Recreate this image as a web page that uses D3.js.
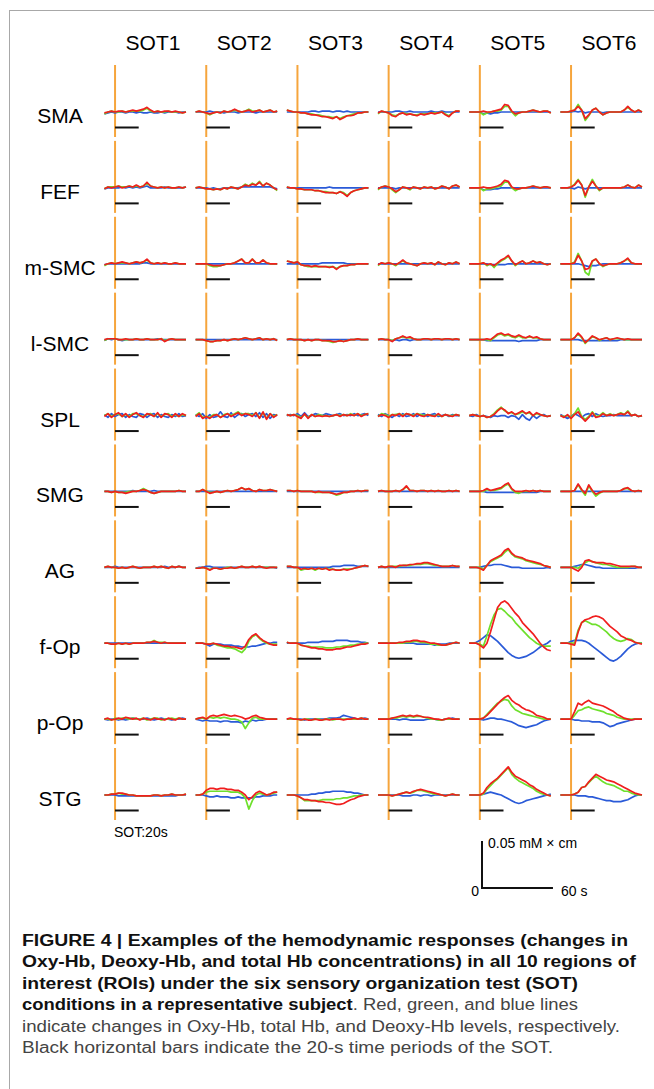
<!DOCTYPE html>
<html>
<head>
<meta charset="utf-8">
<script src="https://cdn.jsdelivr.net/npm/d3@7"></script>
<style>
  body { margin: 0; background: #fff; }
  text { font-family: "Liberation Sans", Arial, sans-serif; }
</style>
</head>
<body>
<script>
// regions of interest (rows) and SOT conditions (columns)
const rois = ["SMA", "FEF", "m-SMC", "l-SMC", "SPL", "SMG", "AG", "f-Op", "p-Op", "STG"];
const conditions = ["SOT1", "SOT2", "SOT3", "SOT4", "SOT5", "SOT6"];

// sample times in s (0 = SOT onset)
const times = [-9, -6, -3, 0, 3, 6, 9, 12, 15, 18, 21, 24, 27, 30, 33, 36, 39, 42, 45, 48, 51, 54, 57, 60];

// changes in uM x cm, [roi][condition][time]
const oxyHb = [
  [ // SMA
    [-1,0,1,0,1,1,0,1,2,1,2,3,5,2,0,1,0,1,1,0,1,0,-1,0],
    [0,1,0,-1,-2,-1,0,-1,1,0,1,3,1,0,1,2,0,1,2,0,1,2,0,1],
    [2,1,0,0,-1,-1,-2,-3,-3,-4,-5,-5,-6,-7,-5,-8,-6,-4,-4,-3,-1,-1,0,0],
    [-1,1,0,-1,-4,-5,-2,-1,-3,-2,-3,-4,-2,-3,-2,-1,-2,-1,0,-3,-5,-1,1,1],
    [0,0,0,0,1,0,0,1,2,3,8,7,1,-2,-1,0,0,1,2,1,0,1,1,-1],
    [0,0,0,1,2,6,2,-7,-3,2,4,0,-3,-1,0,0,0,0,2,6,2,0,2,0]
  ],
  [ // FEF
    [-1,1,0,1,2,0,1,2,1,3,1,2,6,2,1,0,1,0,1,0,0,1,0,1],
    [0,1,0,-1,-1,-2,-1,-2,0,-1,1,0,-1,1,3,2,4,3,6,2,5,3,0,-2],
    [1,0,0,-1,-1,-2,-2,-2,-3,-3,-4,-5,-5,-5,-6,-4,-6,-9,-5,-3,-2,-1,0,0],
    [-1,1,2,1,-1,-4,-2,1,0,-1,1,0,-1,1,0,1,-1,0,2,1,-1,2,3,1],
    [0,0,0,0,1,0,0,1,2,4,8,7,1,-1,-1,0,0,1,2,1,0,1,1,0],
    [0,0,0,1,3,8,3,-8,1,7,2,-2,0,0,0,0,0,0,1,3,1,0,3,1]
  ],
  [ // m-SMC
    [-1,0,1,0,1,2,1,0,1,2,1,2,5,1,0,1,0,1,0,0,1,0,0,0],
    [0,0,0,0,-1,-2,-2,-2,-1,0,0,1,3,5,1,1,5,1,1,4,1,0,0,0],
    [3,2,1,2,-1,-2,-2,-3,-2,-3,-3,-3,-4,-3,-6,-3,-2,-2,-1,-1,0,0,0,0],
    [-1,1,0,1,0,-1,1,4,1,0,-1,-2,0,1,0,1,-1,2,0,-1,1,0,2,0],
    [0,0,0,0,1,-1,0,-2,1,4,6,9,3,-1,1,3,0,1,3,1,2,0,-1,0],
    [0,0,0,0,1,9,3,-6,-5,3,5,0,-2,-1,0,0,0,1,3,6,1,0,0,0]
  ],
  [ // l-SMC
    [0,1,1,1,0,0,1,0,0,1,0,0,1,0,0,0,1,-2,0,1,0,0,0,0],
    [0,0,0,-1,-2,-2,-1,-1,0,-1,0,1,0,1,2,1,0,1,2,0,1,0,1,-1],
    [0,1,0,0,0,-1,0,-1,0,0,-1,-1,-1,-2,-2,-1,-2,-1,0,0,1,0,0,0],
    [0,1,0,0,-2,1,2,4,2,3,1,0,0,1,1,0,1,1,0,1,1,0,1,0],
    [0,0,0,0,0,1,0,3,6,7,5,6,4,3,5,3,2,4,2,3,1,0,0,0],
    [0,0,0,0,2,7,3,-3,0,4,2,0,1,2,0,1,2,1,0,1,0,0,0,0]
  ],
  [ // SPL
    [-1,2,-2,1,3,-1,2,-2,1,3,0,-2,2,1,-1,3,-2,2,1,-2,2,-1,2,0],
    [-1,2,-3,-1,-3,0,1,-2,0,2,-1,1,3,0,2,1,-1,3,-3,4,-4,2,-2,1],
    [1,0,1,-1,-3,2,-3,1,-1,0,-1,0,-1,0,1,-1,1,0,1,0,2,-1,1,2],
    [-1,1,0,-2,1,0,2,-1,2,1,-1,2,0,-1,1,0,-1,2,-1,1,0,-1,1,0],
    [0,1,0,-1,0,-2,-1,1,5,8,6,2,4,1,3,5,2,4,0,3,1,0,-1,0],
    [0,-2,1,-3,1,4,-2,-6,-2,3,-2,-1,2,0,1,0,1,2,1,4,0,1,-1,0]
  ],
  [ // SMG
    [0,0,-1,0,-1,-1,-2,-1,0,0,1,2,1,-1,-2,-1,0,0,0,0,0,1,0,0],
    [0,0,2,0,-2,-1,0,-1,0,1,0,1,2,4,2,3,1,0,2,1,1,2,1,0],
    [1,1,0,1,0,0,0,0,-1,0,-1,-1,-1,-2,-3,-2,-1,-1,0,0,1,0,1,1],
    [0,1,0,0,0,1,0,2,6,1,1,0,1,1,0,1,0,1,0,0,1,0,1,0],
    [0,0,0,0,1,3,1,2,3,4,7,9,3,0,0,0,1,0,1,0,1,0,0,0],
    [0,0,0,0,1,8,2,-2,7,1,-3,-1,0,0,0,0,0,1,3,4,1,0,1,0]
  ],
  [ // AG
    [0,1,0,0,-1,0,-1,0,1,0,-1,0,0,0,1,0,1,0,-1,1,0,1,0,0],
    [-1,-1,0,-1,-3,-1,-1,-2,-1,-1,0,-1,0,1,0,0,1,0,1,0,-1,0,0,0],
    [1,1,0,0,-2,-1,-2,-1,-2,-1,-2,-1,-3,-2,-3,-3,-2,-3,-2,-1,0,1,2,1],
    [0,1,0,1,1,0,2,2,2,3,3,4,4,5,5,4,3,2,1,1,1,2,1,1],
    [0,0,0,-1,-3,2,7,9,11,13,18,20,15,12,11,10,8,7,6,5,4,2,1,0],
    [0,0,0,0,-2,-4,0,7,8,6,5,5,5,4,4,3,2,1,1,1,1,1,0,0]
  ],
  [ // f-Op
    [0,0,-1,-1,0,-1,0,-1,0,0,0,0,1,1,2,1,0,1,0,0,0,0,0,0],
    [0,0,0,-1,-1,0,-1,-2,-3,-3,-4,-4,-5,-6,-3,4,8,10,6,3,1,-1,-2,-2],
    [1,0,0,0,-2,-3,-4,-5,-5,-6,-6,-7,-7,-7,-6,-6,-5,-4,-4,-3,-2,-1,-1,0],
    [0,0,0,0,0,0,1,1,2,2,3,3,2,2,1,0,0,-1,-2,-2,-1,0,1,0],
    [0,0,0,-2,-5,0,12,25,38,43,45,42,37,32,28,22,18,14,10,5,0,-4,-7,-8],
    [0,0,0,-1,-2,12,22,25,26,28,29,28,26,22,18,15,12,8,6,4,3,1,0,-1]
  ],
  [ // p-Op
    [0,1,-1,0,1,0,2,1,0,1,-1,1,0,-1,1,0,0,-1,1,0,-1,1,0,0],
    [0,1,2,0,3,4,3,4,5,4,3,4,3,2,0,1,3,4,2,1,0,0,0,0],
    [0,1,0,0,-1,0,-1,-1,0,-1,-1,0,-1,0,0,0,-1,0,0,1,0,1,0,0],
    [0,0,0,0,1,2,3,4,3,4,3,4,3,2,2,1,0,0,-1,0,1,0,0,0],
    [0,0,0,0,1,4,8,12,16,20,23,25,20,17,15,12,10,9,7,4,3,2,0,0],
    [0,0,0,0,8,17,15,18,20,17,16,15,14,12,10,8,5,3,1,0,-1,0,0,0]
  ],
  [ // STG
    [0,0,1,1,2,2,1,0,0,-1,-1,-1,-1,-1,0,0,-1,0,0,1,0,0,0,1],
    [0,0,1,5,7,7,6,7,7,6,6,5,5,3,0,-5,-2,2,4,2,0,1,3,3],
    [0,0,0,-1,-3,-5,-5,-6,-6,-7,-7,-8,-8,-9,-10,-10,-9,-7,-5,-4,-2,-1,0,0],
    [0,0,0,0,-1,0,1,2,3,2,4,5,6,5,4,3,2,1,0,-1,0,1,0,0],
    [0,0,0,0,2,8,12,15,18,22,26,30,24,20,18,16,14,11,9,6,4,2,0,-1],
    [0,0,0,0,1,3,8,9,14,18,22,20,18,16,15,14,12,10,8,6,4,2,1,0]
  ]
];

const totalHb = [
  [ // SMA
    [-2,0,1,0,0,1,0,1,1,1,1,2,4,1,0,1,0,0,1,0,0,0,-1,0],
    [0,1,0,-1,-3,-1,0,-1,1,0,1,2,1,0,1,3,1,1,2,0,1,2,0,1],
    [2,1,0,0,-1,-1,-2,-2,-3,-3,-4,-5,-5,-6,-5,-7,-5,-4,-3,-2,-1,-1,0,0],
    [-2,1,0,-1,-3,-4,-2,-1,-2,-2,-3,-3,-2,-2,-2,-1,-1,-1,0,-2,-4,-1,1,1],
    [0,0,0,0,-3,-1,0,1,1,2,6,6,0,-4,-1,0,0,1,2,1,0,1,1,-1],
    [0,0,0,1,2,8,2,-9,-4,2,4,0,-3,-1,0,0,0,0,2,5,2,0,2,0]
  ],
  [ // FEF
    [-1,1,1,1,2,1,1,2,1,2,1,2,5,2,1,0,1,0,1,0,0,1,0,1],
    [0,1,0,-1,-1,-2,-1,-2,0,-1,1,0,-1,1,4,2,5,3,7,2,5,3,0,-3],
    [1,0,0,-1,-1,-2,-2,-2,-3,-3,-4,-4,-5,-5,-6,-4,-5,-8,-5,-3,-2,-1,0,0],
    [-2,1,2,1,-2,-5,-2,1,0,-2,1,0,-1,1,0,1,-1,0,2,1,-1,2,3,1],
    [0,0,0,0,-3,-1,-1,0,1,2,6,6,0,-3,-1,0,0,1,2,1,0,1,1,0],
    [0,0,0,1,4,9,3,-10,1,9,2,-3,0,0,0,0,0,0,1,3,1,0,3,1]
  ],
  [ // m-SMC
    [-2,0,1,0,1,1,1,0,1,2,1,2,4,1,0,1,0,1,0,0,1,0,0,0],
    [0,0,0,0,-2,-3,-3,-2,-1,0,0,1,3,5,1,1,5,1,1,4,1,0,0,0],
    [3,2,1,2,-1,-2,-3,-3,-3,-3,-3,-3,-3,-3,-5,-3,-2,-2,-1,-1,0,0,0,0],
    [-2,1,0,1,0,-2,1,3,1,0,-1,-2,0,1,0,1,-1,2,0,-1,1,0,2,0],
    [0,0,0,0,1,-2,0,-4,0,3,5,8,3,-2,1,3,0,1,3,1,2,0,-1,0],
    [0,0,0,0,2,11,3,-9,-12,3,5,0,-3,-1,0,0,0,1,3,5,1,0,0,0]
  ],
  [ // l-SMC
    [-1,1,1,1,0,0,0,0,0,1,0,0,1,0,0,0,1,-1,0,1,0,0,0,0],
    [0,0,0,-1,-2,-2,-1,-1,0,-1,0,1,0,1,2,1,0,1,2,0,1,0,1,-1],
    [0,1,0,0,0,-1,0,-1,0,0,-1,-1,-2,-3,-2,-1,-2,-1,0,0,1,0,0,0],
    [0,1,0,0,-1,1,2,3,2,2,1,0,0,1,1,0,1,1,0,1,1,0,1,0],
    [0,0,0,0,0,0,-1,2,5,6,4,5,3,2,4,2,2,3,2,2,1,0,0,0],
    [0,0,0,0,2,6,2,-4,0,3,2,-1,1,2,0,1,1,1,0,0,0,0,0,0]
  ],
  [ // SPL
    [0,2,-1,1,2,-1,1,-1,2,2,0,-1,1,2,-1,2,-1,1,2,-1,1,-1,1,0],
    [0,3,-2,-1,-2,1,1,-2,1,2,0,2,4,1,2,2,0,3,-2,3,-3,2,-1,1],
    [1,0,1,0,-2,1,-2,1,-1,1,0,0,-1,0,1,0,1,0,2,0,2,0,1,2],
    [-1,2,1,-1,1,1,2,0,2,1,0,2,1,0,1,0,0,1,-1,1,0,0,1,0],
    [0,1,0,-1,0,-2,-1,2,6,9,5,3,3,1,2,4,2,3,0,2,1,0,-1,0],
    [0,-1,0,-2,2,8,-1,-4,-1,4,-1,0,3,0,2,0,1,3,1,5,0,1,-1,0]
  ],
  [ // SMG
    [0,0,-1,0,-1,-1,-1,0,0,0,1,3,1,-1,-2,-1,0,0,0,0,0,1,0,0],
    [0,0,2,0,-1,-1,0,-1,0,1,0,1,2,4,2,3,1,0,2,1,1,2,1,0],
    [1,1,0,1,0,0,0,0,-1,-1,-1,-1,-1,-2,-4,-3,-1,-1,0,0,1,0,1,1],
    [0,1,0,0,0,1,0,2,5,1,1,0,1,1,0,1,0,1,0,0,1,0,1,0],
    [0,0,0,0,0,2,1,1,2,3,6,8,2,-1,-2,0,0,0,1,0,1,0,0,0],
    [0,0,0,0,1,7,1,-4,6,0,-5,-2,0,0,0,0,0,1,3,3,1,0,1,0]
  ],
  [ // AG
    [0,1,0,0,-1,0,-1,0,1,0,-1,0,0,0,1,0,1,0,-1,1,0,1,0,0],
    [-1,-1,0,-1,-2,-1,-1,-2,-1,0,0,-1,0,1,0,0,1,0,1,0,0,0,0,0],
    [1,1,0,0,-3,-2,-2,-1,-3,-1,-2,-1,-2,-2,-3,-3,-2,-2,-2,-1,0,1,2,1],
    [0,1,0,1,1,1,1,2,2,2,3,3,3,4,4,3,2,2,1,1,1,2,1,1],
    [0,0,0,0,-2,2,6,8,10,12,16,19,14,11,10,9,7,6,5,4,3,2,1,0],
    [0,0,0,0,0,-1,2,5,7,6,5,4,3,3,2,1,0,0,0,0,1,1,0,0]
  ],
  [ // f-Op
    [0,0,-1,-1,0,-1,0,-1,0,0,0,0,1,1,3,1,1,1,0,0,0,0,0,0],
    [0,0,0,-1,-1,0,-2,-3,-4,-5,-5,-6,-8,-10,-6,2,7,9,5,2,0,-1,-1,-1],
    [1,0,0,0,-2,-3,-3,-4,-4,-4,-4,-5,-5,-5,-4,-4,-3,-3,-2,-2,-1,-1,0,0],
    [0,0,0,0,0,0,0,0,1,1,2,2,1,1,0,-1,-1,-2,-2,-2,-1,0,1,0],
    [0,0,0,-1,-3,8,20,30,36,37,34,30,27,22,18,14,10,6,3,0,-2,-3,-3,-3],
    [0,0,0,0,0,14,22,24,22,20,20,18,15,12,8,5,3,2,3,5,4,1,0,0]
  ],
  [ // p-Op
    [0,0,-1,1,0,1,1,0,1,0,0,1,-1,0,1,1,-1,0,0,1,0,1,0,0],
    [0,1,1,0,2,1,2,1,2,1,0,0,-1,-3,-10,-4,1,2,0,0,0,0,0,0],
    [0,0,0,0,-1,0,0,-1,0,0,-1,0,0,-1,0,0,0,0,0,0,0,1,0,0],
    [0,0,0,0,1,1,2,3,2,3,2,3,3,2,1,0,0,-1,-1,0,0,0,0,0],
    [0,0,0,0,1,5,9,13,17,19,21,20,14,10,8,6,5,4,3,2,1,0,0,0],
    [0,0,0,0,4,9,10,12,13,11,10,9,8,6,5,4,2,1,0,0,0,0,0,0]
  ],
  [ // STG
    [0,0,1,1,2,1,1,0,0,-1,-1,-1,-1,-1,0,0,-1,0,0,1,0,0,0,1],
    [0,0,1,3,4,4,4,4,4,4,3,3,3,1,-3,-15,-6,0,2,1,0,1,2,3],
    [0,0,0,-1,-3,-6,-6,-6,-6,-6,-5,-5,-5,-5,-4,-4,-3,-3,-2,-1,-1,0,0,0],
    [0,0,0,0,-1,0,1,2,3,2,3,5,5,4,3,2,1,1,0,-1,0,1,0,0],
    [0,0,0,0,1,6,10,14,17,21,25,29,22,18,15,13,11,9,7,4,2,1,0,-1],
    [0,0,0,0,1,3,8,9,13,17,20,17,14,12,11,10,8,6,4,4,2,1,0,0]
  ]
];

const deoxyHb = [
  [ // SMA
    [-2,-1,0,-1,0,0,-1,0,0,-1,0,-1,-1,0,-1,-1,0,-1,0,0,0,-1,0,0],
    [0,0,0,0,1,0,0,0,-1,0,0,0,-1,0,0,0,0,-1,0,0,0,0,0,0],
    [0,0,0,0,0,0,0,1,1,0,1,1,1,0,1,1,0,1,0,0,0,0,0,0],
    [0,0,0,0,0,1,1,0,0,1,0,0,0,0,0,1,0,0,1,0,0,0,0,0],
    [0,0,0,0,-2,-1,-2,-1,-1,0,0,0,0,0,0,0,0,0,0,0,0,0,0,0],
    [0,0,0,0,1,0,1,-1,0,0,0,0,-1,0,0,0,0,0,0,0,0,0,0,0]
  ],
  [ // FEF
    [-1,0,0,0,0,1,0,1,0,1,0,1,2,0,0,0,0,1,0,0,0,0,0,1],
    [0,0,0,0,-1,0,-1,-1,0,0,0,0,0,1,1,1,1,1,1,1,1,1,0,-1],
    [0,0,0,0,0,0,0,0,0,0,0,0,1,0,0,0,0,0,0,0,0,0,0,0],
    [0,0,0,0,0,-1,0,0,0,0,0,0,0,0,0,0,0,0,0,0,0,0,0,0],
    [0,0,0,0,-2,-2,-2,-1,-1,0,0,0,0,0,0,0,0,0,0,0,0,0,0,0],
    [0,0,0,0,-1,1,0,-1,0,0,0,0,0,0,0,0,0,0,0,0,0,0,0,0]
  ],
  [ // m-SMC
    [-1,0,0,0,0,0,0,0,0,0,0,1,1,0,0,0,0,0,0,0,0,0,0,0],
    [0,0,0,0,0,0,0,0,0,0,0,0,0,0,0,0,0,0,0,0,0,0,0,0],
    [0,0,0,0,0,0,0,0,0,0,1,1,1,1,1,1,1,0,0,0,0,0,0,0],
    [0,0,0,0,0,0,0,0,0,0,0,0,0,0,0,0,0,0,0,0,0,0,0,0],
    [0,0,0,0,0,0,-1,-1,-1,-1,-1,0,0,0,0,0,0,0,0,0,0,0,0,0],
    [0,0,0,0,0,0,-1,-2,-3,-2,-2,-1,0,0,0,0,0,0,0,0,0,0,0,0]
  ],
  [ // l-SMC
    [-1,1,0,1,0,-1,0,0,0,0,0,0,0,0,0,1,0,0,0,0,0,0,0,0],
    [0,0,0,0,0,0,0,0,0,0,0,0,0,0,0,0,0,0,0,0,0,0,0,0],
    [0,0,0,0,0,0,0,0,0,0,0,0,0,0,0,0,0,0,0,0,0,0,0,0],
    [0,0,0,0,-1,0,-1,0,0,-1,0,0,0,0,0,0,0,0,0,0,0,0,0,0],
    [0,0,0,0,0,-1,-1,-1,-1,-1,-1,-1,-1,-1,-2,-1,-1,-1,-1,-1,0,0,0,0],
    [0,0,0,0,0,0,-1,-1,-1,-1,-1,-1,-1,-1,-1,-1,-1,0,0,0,0,0,0,0]
  ],
  [ // SPL
    [1,-2,2,-1,1,2,-2,1,-1,-2,2,1,-2,1,2,-2,1,-1,-2,1,-1,2,-1,0],
    [1,-1,2,-3,1,-2,-1,4,-1,-2,3,-2,1,2,-1,1,2,-1,3,-2,2,-3,1,0],
    [0,1,0,2,-1,3,-1,0,2,1,0,2,1,0,1,2,0,1,0,2,0,1,2,0],
    [1,-1,2,0,-2,1,-1,2,-1,0,2,-1,1,2,-1,1,2,-1,0,1,-1,1,0,0],
    [0,-1,1,-1,0,-1,-2,0,-1,0,0,-2,0,-1,-4,1,-3,-5,0,-3,0,1,-1,0],
    [1,-1,-3,-1,2,0,-2,1,2,-1,2,0,-1,0,0,1,0,0,0,0,0,1,-1,0]
  ],
  [ // SMG
    [0,0,0,0,0,0,0,0,1,0,0,0,0,0,1,0,0,0,0,0,0,0,0,0],
    [0,0,0,0,0,0,0,0,0,0,0,0,0,0,0,0,0,0,0,0,0,0,0,0],
    [0,0,0,0,0,0,0,0,0,0,0,0,0,0,0,0,0,0,0,0,0,0,0,0],
    [0,0,0,0,0,0,0,0,0,0,0,0,0,0,0,0,0,0,0,0,0,0,0,0],
    [0,0,0,0,0,-1,-1,-1,-1,-1,-1,-1,-1,-1,-1,-1,-1,-1,-1,-1,0,0,0,0],
    [0,0,0,0,0,0,0,0,0,0,0,0,0,0,0,0,0,0,0,0,0,0,0,0]
  ],
  [ // AG
    [0,0,0,1,0,0,0,0,0,0,0,0,0,0,0,0,0,1,0,0,0,1,0,0],
    [-1,0,0,1,1,0,0,0,0,0,0,0,0,0,0,0,0,0,0,0,0,0,0,-1],
    [0,0,0,0,0,0,0,0,0,0,0,0,0,1,1,1,2,2,2,2,1,1,1,1],
    [0,0,0,0,0,0,0,0,0,0,0,0,0,0,0,0,0,0,0,0,0,0,0,0],
    [0,0,0,0,1,2,2,3,3,3,2,1,0,0,0,-1,-1,-1,-1,-1,-1,-1,0,-1],
    [0,0,0,0,1,2,3,3,2,1,0,0,-1,-1,-1,-1,-1,-1,-1,-1,-1,-1,0,0]
  ],
  [ // f-Op
    [0,0,0,0,0,0,0,0,0,0,0,0,0,0,0,0,0,0,0,0,0,0,0,0],
    [0,0,0,-1,-3,-1,-1,-1,-2,-2,-2,-3,-3,-4,-4,-4,-3,-3,-2,-1,0,0,1,1],
    [0,0,0,0,0,0,1,1,1,1,2,2,2,2,3,3,3,3,2,2,2,1,1,0],
    [0,0,0,0,0,0,0,0,0,0,0,-1,-1,-1,-1,-1,-2,-1,-1,-1,0,0,0,0],
    [0,0,1,3,6,9,8,5,2,-2,-6,-10,-13,-15,-16,-15,-14,-12,-10,-7,-4,-2,0,3],
    [0,0,0,2,3,3,3,2,0,-3,-6,-9,-12,-15,-18,-19,-17,-14,-10,-6,-3,-1,0,0]
  ],
  [ // p-Op
    [0,-1,0,0,-1,0,-1,0,1,0,0,0,1,0,-1,0,1,0,0,-1,0,0,1,0],
    [0,-1,-2,-1,-2,-2,-2,-3,-2,-2,-3,-3,-3,-4,-2,-3,-1,-2,-1,-1,0,0,0,0],
    [0,0,0,0,0,-1,0,0,0,0,0,0,1,1,1,2,4,3,2,1,0,0,1,0],
    [0,0,0,0,0,0,-1,0,0,-1,-1,-1,-1,-1,0,0,0,-1,-1,0,0,1,0,0],
    [0,0,0,0,-1,0,1,1,0,0,-1,-2,-3,-5,-7,-8,-9,-8,-7,-6,-4,-2,-1,0],
    [0,0,0,0,-1,-1,-2,-2,-2,-3,-3,-3,-4,-6,-8,-7,-5,-4,-3,-2,-1,0,0,0]
  ],
  [ // STG
    [0,0,0,0,-1,-1,-1,-1,-1,-1,-1,-1,-1,-1,-1,-1,-1,-1,-1,-1,-1,0,0,0],
    [0,0,0,-1,-2,-2,-1,-2,-2,-2,-3,-3,-2,-3,-3,-3,-3,-2,-2,-1,-1,-1,0,0],
    [0,0,0,0,0,0,0,1,1,2,2,3,3,4,4,4,4,3,3,2,2,1,0,0],
    [0,0,0,0,0,0,0,-1,-1,-1,0,0,-1,0,0,-1,0,0,0,0,0,0,0,0],
    [0,0,0,0,1,2,3,2,1,0,-2,-4,-6,-8,-9,-8,-6,-5,-4,-3,-2,-1,0,1],
    [0,0,0,0,0,-1,-1,-1,-2,-2,-3,-4,-5,-6,-6,-7,-7,-7,-6,-5,-3,-1,0,0]
  ]
];

const captionLines = [
  [{ t: "FIGURE 4 | Examples of the hemodynamic responses (changes in", b: true }],
  [{ t: "Oxy-Hb, Deoxy-Hb, and total Hb concentrations) in all 10 regions of", b: true }],
  [{ t: "interest (ROIs) under the six sensory organization test (SOT)", b: true }],
  [{ t: "conditions in a representative subject", b: true }, { t: ". Red, green, and blue lines", b: false }],
  [{ t: "indicate changes in Oxy-Hb, total Hb, and Deoxy-Hb levels, respectively.", b: false }],
  [{ t: "Black horizontal bars indicate the 20-s time periods of the SOT.", b: false }]
];
const captionWidths = [606, 614, 556, 556, 598, 531];

const W = 654, H = 1089;
const svg = d3.select("body").append("svg").attr("width", W).attr("height", H);

// outer frame (only left and top edges fall inside the picture)
svg.append("rect")
  .attr("x", 9.5).attr("y", 10.5)
  .attr("width", W + 20).attr("height", H + 20)
  .attr("fill", "none").attr("stroke", "#a8a8a8");

const colX = d3.scalePoint().domain(conditions).range([115, 571]);
const rowY = d3.scalePoint().domain(rois).range([112, 795]);
const x = d3.scaleLinear().domain([-9, 60]).range([-10.6, 71]);
const y = d3.scaleLinear().domain([-50, 50]).range([47, -47]);

const line = d3.line()
  .x((d, i) => x(times[i]))
  .y(d => y(d));

const colors = { deoxy: "#2a5ad8", total: "#6ee02c", oxy: "#f01e1e" };

// column headers
svg.selectAll(".col-head").data(conditions).enter().append("text")
  .attr("class", "col-head")
  .attr("x", d => colX(d) + 38)
  .attr("y", 50)
  .attr("text-anchor", "middle")
  .attr("font-size", 21)
  .text(d => d);

// row labels
svg.selectAll(".row-head").data(rois).enter().append("text")
  .attr("class", "row-head")
  .attr("x", 60)
  .attr("y", d => rowY(d) + 11)
  .attr("text-anchor", "middle")
  .attr("font-size", 21)
  .text(d => d);

rois.forEach((roi, ri) => {
  conditions.forEach((cond, ci) => {
    const g = svg.append("g")
      .attr("transform", `translate(${colX(cond)},${rowY(roi)})`);

    // stimulus onset
    g.append("line")
      .attr("x1", x(0)).attr("x2", x(0))
      .attr("y1", -47).attr("y2", 25)
      .attr("stroke", "#f6a53c").attr("stroke-width", 2);

    // 20 s SOT period
    g.append("line")
      .attr("x1", x(0)).attr("x2", x(20))
      .attr("y1", 15.5).attr("y2", 15.5)
      .attr("stroke", "#111").attr("stroke-width", 2);

    [["deoxy", deoxyHb], ["total", totalHb], ["oxy", oxyHb]].forEach(([key, arr]) => {
      g.append("path")
        .datum(arr[ri][ci])
        .attr("d", line)
        .attr("fill", "none")
        .attr("stroke", colors[key])
        .attr("stroke-width", 1.7)
        .attr("stroke-linejoin", "round");
    });
  });
});

svg.append("text")
  .attr("x", 114).attr("y", 837)
  .attr("font-size", 14)
  .text("SOT:20s");

// scale bar
const sb = svg.append("g").attr("transform", "translate(482,888)");
sb.append("path")
  .attr("d", `M0,${y(50) - y(0)}V0H${x(60) - x(0)}`)
  .attr("fill", "none").attr("stroke", "#111").attr("stroke-width", 2);
sb.append("text").attr("x", 6).attr("y", -40).attr("font-size", 14).text("0.05 mM × cm");
sb.append("text").attr("x", -3).attr("y", 8).attr("text-anchor", "end").attr("font-size", 14).text("0");
sb.append("text").attr("x", x(60) - x(0) + 8).attr("y", 8).attr("font-size", 14).text("60 s");

// caption
captionLines.forEach((parts, i) => {
  const t = svg.append("text")
    .attr("x", 22).attr("y", 946 + i * 21.4)
    .attr("font-size", 16)
    .attr("textLength", captionWidths[i])
    .attr("lengthAdjust", "spacingAndGlyphs");
  parts.forEach(p => {
    t.append("tspan")
      .attr("font-weight", p.b ? "bold" : "normal")
      .attr("fill", p.b ? "#111" : "#444")
      .text(p.t);
  });
});
</script>
</body>
</html>
